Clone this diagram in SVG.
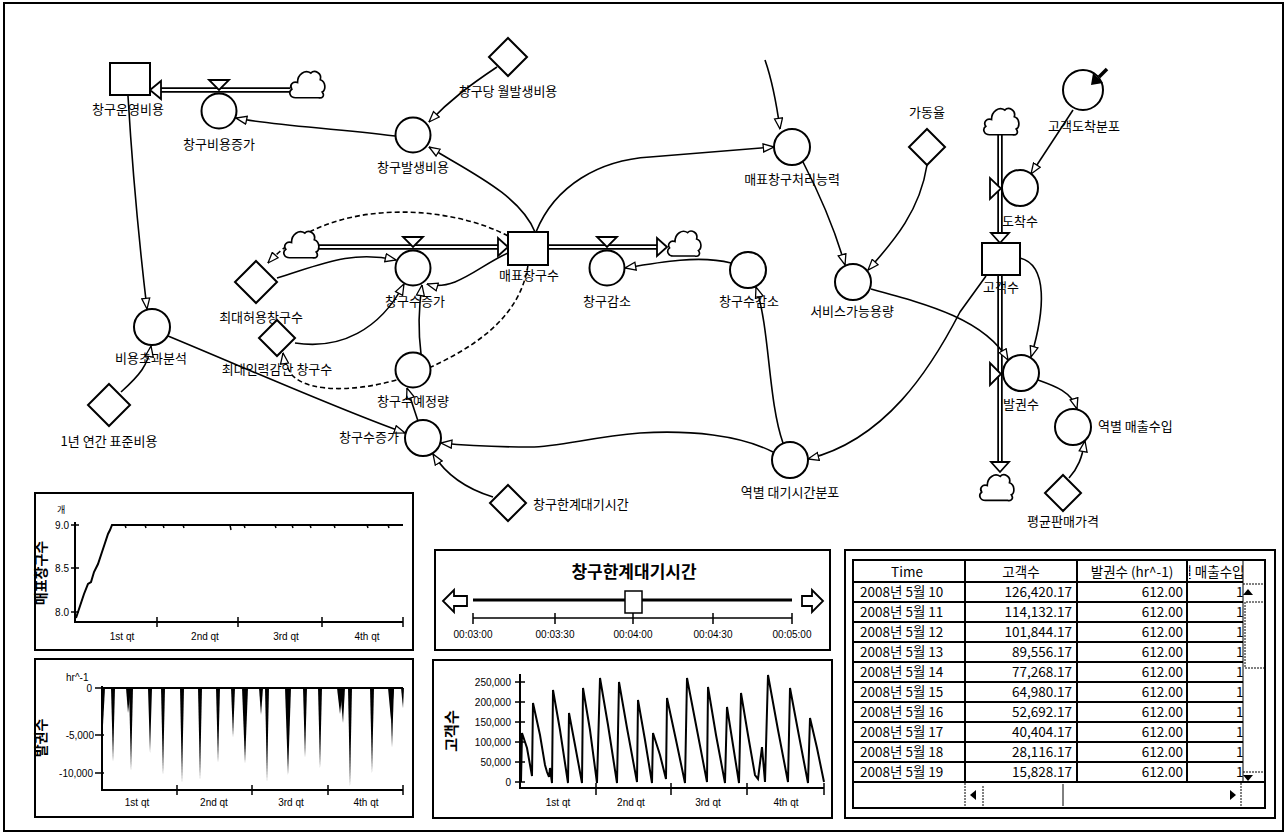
<svg xmlns="http://www.w3.org/2000/svg" width="1287" height="834" viewBox="0 0 1287 834">
<style>
text{font-family:"Noto Sans CJK KR","Liberation Sans",sans-serif;fill:#000}
.lbl{font-size:13px;text-anchor:middle}
.st{text-anchor:start}
.nd{fill:#fff;stroke:#000;stroke-width:2}
.ln{fill:none;stroke:#000;stroke-width:1.6;marker-end:url(#arr)}
.ds{stroke-dasharray:5,3}
.pb{stroke:#000;stroke-width:5.5;fill:none}
.pw{stroke:#fff;stroke-width:2;fill:none}
.ph{fill:#fff;stroke:#000;stroke-width:1.8}
.fr{fill:#fff;stroke:#000;stroke-width:2}
.ax{stroke:#000;stroke-width:2;fill:none}
.tk{stroke:#000;stroke-width:1.5}
.sm{font-family:"Liberation Sans",sans-serif;font-size:10px}
.ttl{font-size:14px;font-weight:bold;text-anchor:middle}
.tb{font-size:13.5px}
.grid{stroke:#000;stroke-width:2}
.dot{fill:none;stroke:#000;stroke-width:1;stroke-dasharray:2,1}
</style>
<defs>
<marker id="arr" viewBox="0 0 12 10" refX="11.5" refY="5" markerWidth="12" markerHeight="10" markerUnits="userSpaceOnUse" orient="auto">
<path d="M0.8,1 L11.5,5 L0.8,9 Z" fill="#fff" stroke="#000" stroke-width="1.3"/>
</marker>
<symbol id="cloud" viewBox="0 0 40 34" width="40" height="34" overflow="visible">
<path d="M8,32 C2,32 0,26 4,23 C1,19 5,14 10,16 C10,7 18,2 24,6 C28,2 36,6 34,13 C40,15 40,24 36,26 C39,30 36,33 32,32 Z" fill="#fff" stroke="#000" stroke-width="1.8"/>
</symbol>
<clipPath id="c4"><rect x="1189" y="560" width="54" height="222"/></clipPath>
</defs>
<rect x="4" y="3" width="1279" height="828" fill="#fff" stroke="#000" stroke-width="2"/>

<g id="connectors">
<!-- pipes -->
<path class="pb" d="M290,90 L156,90"/><path class="pw" d="M290,90 L156,90"/>
<path class="pb" d="M318,247 L502,247"/><path class="pw" d="M318,247 L502,247"/>
<path class="pb" d="M548,247 L661,247"/><path class="pw" d="M548,247 L661,247"/>
<path class="pb" d="M1000,135 L1000,237"/><path class="pw" d="M1000,135 L1000,237"/>
<path class="pb" d="M1000,275 L1000,466"/><path class="pw" d="M1000,275 L1000,466"/>
<polygon class="ph" points="150,90 161,81 161,99"/>
<polygon class="ph" points="508,247 498,238 498,256"/>
<polygon class="ph" points="667,247 657,238 657,256"/>
<polygon class="ph" points="1000,243 991,233 1009,233"/>
<polygon class="ph" points="1000,472 991,462 1009,462"/>
<!-- info links -->
<path class="ln" d="M497,67 C470,85 450,100 429,122"/>
<path class="ln" d="M395,136 C330,128 270,125 236,118"/>
<path class="ln" d="M535,232 C520,195 470,172 429,147"/>
<path class="ln" d="M536,232 C555,185 600,160 650,157 C700,153 740,150 774,147"/>
<path class="ln" d="M765,60 C772,80 776,100 780,129"/>
<path class="ln" d="M803,162 C820,195 835,230 845,265"/>
<path class="ln" d="M927,165 C920,210 895,240 868,270"/>
<path class="ln" d="M871,289 C930,305 985,320 1008,360"/>
<path class="ln" d="M1020,258 C1048,265 1045,310 1031,357"/>
<path class="ln" d="M1073,110 L1031,174"/>
<path class="ln" d="M986,276 L960,312 C930,370 885,440 808,459"/>
<path class="ln" d="M783,443 C768,400 770,330 756,287"/>
<path class="ln" d="M731,263 C700,255 660,262 625,268"/>
<path class="ln" d="M773,452 C740,435 690,430 640,433 C590,437 560,447 530,447 C500,447 470,446 441,443"/>
<path class="ln" d="M493,497 C470,490 448,478 433,454"/>
<path class="ln" d="M168,336 C250,370 340,410 405,433"/>
<path class="ln" d="M418,421 L407,388"/>
<path class="ln" d="M421,354 C418,330 419,305 422,285"/>
<path class="ln" d="M508,253 C480,265 455,292 427,284"/>
<path class="ln" d="M277,278 C320,265 350,250 396,260"/>
<path class="ln" d="M295,343 C340,350 380,330 404,284"/>
<path class="ln ds" d="M508,236 C450,205 330,195 268,263"/>
<path class="ln ds" d="M528,265 C520,320 470,350 420,372 C370,392 310,395 292,375 C287,368 284,360 283,353"/>
<path class="ln" d="M128,96 C133,180 140,250 147,309"/>
<path class="ln" d="M121,392 C140,375 148,365 151,346"/>
<path class="ln" d="M1038,380 C1055,386 1072,392 1077,409"/>
<path class="ln" d="M1069,478 C1078,468 1082,458 1085,441"/>
</g>

<g id="n_cloud1"><use href="#cloud" x="288" y="67" width="38" height="33"/></g>
<g id="n_cloud2"><use href="#cloud" x="282" y="227" width="38" height="33"/></g>
<g id="n_cloud3"><use href="#cloud" x="666" y="226" width="36" height="33"/></g>
<g id="n_cloud4"><use href="#cloud" x="982" y="104" width="38" height="33"/></g>
<g id="n_cloud5"><use href="#cloud" x="978" y="470" width="37" height="33"/></g>

<g id="n_창구운영비용"><rect class="nd" x="110" y="63" width="40" height="32"/><text class="lbl" x="128" y="114">창구운영비용</text></g>
<g id="n_창구비용증가"><polygon class="ph" points="209,80 229,80 219,90"/><circle class="nd" cx="219" cy="111" r="17.5"/><text class="lbl" x="219" y="149">창구비용증가</text></g>
<g id="n_창구당월발생비용"><polygon class="nd" points="508,38 527,57 508,76 489,57"/><text class="lbl" x="508" y="96">창구당 월발생비용</text></g>
<g id="n_창구발생비용"><circle class="nd" cx="413" cy="135" r="17.5"/><text class="lbl" x="413" y="172">창구발생비용</text></g>
<g id="n_매표창구수"><rect class="nd" x="508" y="232" width="40" height="33"/><text class="lbl" x="529" y="280">매표창구수</text></g>
<g id="n_창구수증가1"><polygon class="ph" points="403,237 423,237 413,247"/><circle class="nd" cx="413" cy="268" r="17.5"/><text class="lbl" x="415" y="306">창구수증가</text></g>
<g id="n_창구감소"><polygon class="ph" points="597,237 617,237 607,247"/><circle class="nd" cx="607" cy="268" r="17.5"/><text class="lbl" x="607" y="306">창구감소</text></g>
<g id="n_최대허용창구수"><polygon class="nd" points="256,261 277,282 256,303 235,282"/><text class="lbl" x="261" y="322">최대허용창구수</text></g>
<g id="n_최대인력감안창구수"><polygon class="nd" points="277,320 295,338 277,356 259,338"/><text class="lbl" x="277" y="374">최대인력감안 창구수</text></g>
<g id="n_창구수예정량"><circle class="nd" cx="413" cy="370" r="17.5"/><text class="lbl" x="413" y="406">창구수예정량</text></g>
<g id="n_창구수증가2"><circle class="nd" cx="423" cy="438" r="18"/><text class="lbl" x="369" y="442">창구수증가</text></g>
<g id="n_창구한계대기시간"><polygon class="nd" points="508,485 526,503 508,521 490,503"/><text class="lbl st" x="533" y="509">창구한계대기시간</text></g>
<g id="n_비용초과분석"><circle class="nd" cx="152" cy="327" r="18"/><text class="lbl" x="151" y="363">비용초과분석</text></g>
<g id="n_1년연간표준비용"><polygon class="nd" points="109,384 130,405 109,426 88,405"/><text class="lbl" x="109" y="446">1년 연간 표준비용</text></g>
<g id="n_매표창구처리능력"><circle class="nd" cx="792" cy="147" r="18"/><text class="lbl" x="792" y="184">매표창구처리능력</text></g>
<g id="n_가동율"><polygon class="nd" points="927,129 945,147 927,165 909,147"/><text class="lbl" x="927" y="117">가동율</text></g>
<g id="n_서비스가능용량"><circle class="nd" cx="853" cy="282" r="18"/><text class="lbl" x="852" y="316">서비스가능용량</text></g>
<g id="n_고객도착분포"><circle class="nd" cx="1083" cy="90" r="20"/><path d="M1107,69 L1099,77" stroke="#000" stroke-width="3.5"/><polygon points="1091,85 1093,73 1103,83" fill="#000"/><text class="lbl" x="1084" y="131">고객도착분포</text></g>
<g id="n_도착수"><polygon class="ph" points="990,178 990,199 1001,188.5"/><circle class="nd" cx="1020" cy="188" r="18"/><text class="lbl" x="1020" y="226">도착수</text></g>
<g id="n_고객수"><rect class="nd" x="982" y="243" width="38" height="32"/><text class="lbl" x="1001" y="292">고객수</text></g>
<g id="n_발권수"><polygon class="ph" points="990,363 990,385 1001,374"/><circle class="nd" cx="1021" cy="373" r="18"/><text class="lbl" x="1021" y="409">발권수</text></g>
<g id="n_역별매출수입"><circle class="nd" cx="1073" cy="427" r="18"/><text class="lbl st" x="1098" y="431">역별 매출수입</text></g>
<g id="n_평균판매가격"><polygon class="nd" points="1063,475 1081,493 1063,511 1045,493"/><text class="lbl" x="1063" y="526">평균판매가격</text></g>
<g id="n_창구수감소"><circle class="nd" cx="748" cy="270" r="18"/><text class="lbl" x="749" y="306">창구수감소</text></g>
<g id="n_역별대기시간분포"><circle class="nd" cx="790" cy="460" r="18"/><text class="lbl" x="790" y="497">역별 대기시간분포</text></g>

<!-- Chart 1 -->
<g id="chart1">
<rect class="fr" x="35" y="493" width="378" height="157"/>
<text class="ttl" transform="translate(46,573) rotate(-90)">매표창구수</text>
<text class="sm" x="57" y="513" style="font-family:'Noto Sans CJK KR',sans-serif;font-size:9px">개</text>
<path class="ax" d="M75,522 L75,623 M75,622 L403,622"/>
<path class="tk" d="M71,525 L79,525 M71,568 L79,568 M71,612 L79,612 M157,617 L157,627 M238,617 L238,627 M322,617 L322,627 M403,617 L403,627"/>
<text class="sm" x="69" y="529" text-anchor="end">9.0</text>
<text class="sm" x="69" y="572" text-anchor="end">8.5</text>
<text class="sm" x="69" y="616" text-anchor="end">8.0</text>
<text class="sm" x="122" y="640" text-anchor="middle">1st qt</text>
<text class="sm" x="205" y="640" text-anchor="middle">2nd qt</text>
<text class="sm" x="286" y="640" text-anchor="middle">3rd qt</text>
<text class="sm" x="367" y="640" text-anchor="middle">4th qt</text>
<path d="M76,618 L80,606 L84,594 L88,584 L91,582 L94,572 L98,564 L102,552 L105,543 L108,534 L110,530 L112,525 L403,525" fill="none" stroke="#000" stroke-width="2"/>
<path d="M125,525 l1,3 M145,525 l1,3 M163,525 l1,3 M183,525 l1,3 M230,525 l1,5 M244,525 l1,3 M275,525 l1,3 M292,525 l1,3 M310,525 l1,3 M334,525 l1,3 M367,525 l1,3 M388,525 l1,3" stroke="#000" stroke-width="1.5"/>
</g>

<!-- Chart 2 -->
<g id="chart2">
<rect class="fr" x="35" y="659" width="378" height="158"/>
<text class="ttl" transform="translate(46,738) rotate(-90)">발권수</text>
<text class="sm" x="66" y="681">hr^-1</text>
<path class="ax" d="M102,686 L102,791 M102,790 L403,790"/>
<path class="tk" d="M95,688 L104,688 M95,735 L104,735 M95,773 L104,773 M177,785 L177,795 M252,785 L252,795 M328,785 L328,795 M403,785 L403,795"/>
<text class="sm" x="92" y="692" text-anchor="end">0</text>
<text class="sm" x="94" y="739" text-anchor="end">-5,000</text>
<text class="sm" x="93" y="777" text-anchor="end">-10,000</text>
<text class="sm" x="137" y="806" text-anchor="middle">1st qt</text>
<text class="sm" x="214" y="806" text-anchor="middle">2nd qt</text>
<text class="sm" x="291" y="806" text-anchor="middle">3rd qt</text>
<text class="sm" x="366" y="806" text-anchor="middle">4th qt</text>
<path d="M102,688 L403,688" stroke="#000" stroke-width="2"/>
<g fill="#000">
<polygon points="102,688 105,688 103,725"/>
<polygon points="111,688 115,688 113,762"/>
<polygon points="126,688 131,688 128,713"/>
<polygon points="129,688 133,688 131,771"/>
<polygon points="148,688 152,688 150,753"/>
<polygon points="161,688 165,688 163,775"/>
<polygon points="180,688 184,688 182,783"/>
<polygon points="198,688 202,688 200,780"/>
<polygon points="216,688 220,688 218,763"/>
<polygon points="231,688 235,688 233,737"/>
<polygon points="242,688 248,688 245,763"/>
<polygon points="259,688 263,688 261,715"/>
<polygon points="265,688 269,688 267,782"/>
<polygon points="285,688 291,688 288,775"/>
<polygon points="303,688 307,688 305,758"/>
<polygon points="318,688 322,688 320,768"/>
<polygon points="337,688 343,688 340,714"/>
<polygon points="340,688 345,688 343,723"/>
<polygon points="348,688 352,688 350,787"/>
<polygon points="370,688 374,688 372,773"/>
<polygon points="388,688 394,688 391,720"/>
<polygon points="390,688 394,688 392,747"/>
<polygon points="401,688 404,688 403,708"/>
</g>
</g>

<!-- Slider -->
<g id="slider">
<rect class="fr" x="435" y="550" width="395" height="100"/>
<text x="634" y="578" style="font-size:17px;font-weight:bold" text-anchor="middle">창구한계대기시간</text>
<polygon points="443,601 454,590 454,596 467,596 467,606 454,606 454,612" fill="#fff" stroke="#000" stroke-width="1.8"/>
<polygon points="823,601 812,590 812,596 802,596 802,606 812,606 812,612" fill="#fff" stroke="#000" stroke-width="1.8"/>
<path d="M473,600 L792,600" stroke="#000" stroke-width="3"/>
<rect x="625" y="591" width="17" height="22" fill="#fff" stroke="#000" stroke-width="1.5"/>
<path d="M473,618 L792,618 M473,613 L473,624 M555,613 L555,624 M633,613 L633,624 M713,613 L713,624 M792,613 L792,624" stroke="#000" stroke-width="1.5"/>
<text class="sm" x="473" y="638" text-anchor="middle">00:03:00</text>
<text class="sm" x="555" y="638" text-anchor="middle">00:03:30</text>
<text class="sm" x="633" y="638" text-anchor="middle">00:04:00</text>
<text class="sm" x="713" y="638" text-anchor="middle">00:04:30</text>
<text class="sm" x="792" y="638" text-anchor="middle">00:05:00</text>
</g>

<!-- Chart 3 -->
<g id="chart3">
<rect class="fr" x="433" y="660" width="399" height="158"/>
<text class="ttl" transform="translate(457,731) rotate(-90)" style="font-size:15px">고객수</text>
<path class="ax" d="M520,674 L520,789 M520,788 L824,788"/>
<path class="tk" d="M515,682 L525,682 M515,702 L525,702 M515,722 L525,722 M515,742 L525,742 M515,762 L525,762 M515,782 L525,782 M596,783 L596,795 M671,783 L671,795 M747,783 L747,795 M824,783 L824,795"/>
<text class="sm" x="511" y="686" text-anchor="end">250,000</text>
<text class="sm" x="511" y="706" text-anchor="end">200,000</text>
<text class="sm" x="511" y="726" text-anchor="end">150,000</text>
<text class="sm" x="511" y="746" text-anchor="end">100,000</text>
<text class="sm" x="511" y="766" text-anchor="end">50,000</text>
<text class="sm" x="511" y="786" text-anchor="end">0</text>
<text class="sm" x="558" y="806" text-anchor="middle">1st qt</text>
<text class="sm" x="631" y="806" text-anchor="middle">2nd qt</text>
<text class="sm" x="708" y="806" text-anchor="middle">3rd qt</text>
<text class="sm" x="786" y="806" text-anchor="middle">4th qt</text>
<path d="M521,782 L522,733 L527,748 L532,776 L533,703 L540,735 L545,765 L547,772 L549,777 L550,768 L552,783 L553,690 L560,730 L568,783 L569,713 L575,745 L582,783 L583,688 L590,730 L597,783 L600,678 L608,725 L617,783 L619,682 L627,728 L637,782 L638,700 L645,740 L652,783 L653,733 L660,755 L666,779 L667,698 L676,740 L685,783 L687,678 L697,730 L707,782 L708,687 L716,735 L725,783 L727,707 L733,745 L739,783 L741,693 L748,735 L755,775 L758,779 L762,747 L765,782 L768,675 L778,730 L788,782 L790,688 L799,736 L808,783 L810,718 L817,748 L824,782" fill="none" stroke="#000" stroke-width="2"/>
</g>

<!-- Table -->
<g id="table">
<rect class="fr" x="845" y="550" width="430" height="268"/>
<rect x="853" y="560" width="412" height="248" fill="#fff" stroke="#000" stroke-width="2"/>
<path class="grid" d="M853,582 L1243,582 M853,602 L1243,602 M853,622 L1243,622 M853,642 L1243,642 M853,662 L1243,662 M853,682 L1243,682 M853,702 L1243,702 M853,722 L1243,722 M853,742 L1243,742 M853,762 L1243,762 M853,782 L1265,782 M965,560 L965,782 M1077,560 L1077,782 M1187,560 L1187,782"/>
<path d="M1243,560 L1243,782" stroke="#000" stroke-width="1"/>
<text class="tb" x="907" y="577" text-anchor="middle">Time</text>
<text class="tb" x="1021" y="577" text-anchor="middle">고객수</text>
<text class="tb" x="1132" y="577" text-anchor="middle">발권수 (hr^-1)</text>
<g clip-path="url(#c4)"><text class="tb" x="1167" y="577">역별 매출수입</text>
<text class="tb" x="1236" y="597">18</text><text class="tb" x="1236" y="617">18</text><text class="tb" x="1236" y="637">18</text><text class="tb" x="1236" y="657">18</text><text class="tb" x="1236" y="677">18</text><text class="tb" x="1236" y="697">18</text><text class="tb" x="1236" y="717">18</text><text class="tb" x="1236" y="737">18</text><text class="tb" x="1236" y="757">18</text><text class="tb" x="1236" y="777">18</text></g>
<g class="tb">
<text class="tb" x="860" y="597">2008년 5월 10</text><text class="tb" x="1072" y="597" text-anchor="end">126,420.17</text><text class="tb" x="1183" y="597" text-anchor="end">612.00</text>
<text class="tb" x="860" y="617">2008년 5월 11</text><text class="tb" x="1072" y="617" text-anchor="end">114,132.17</text><text class="tb" x="1183" y="617" text-anchor="end">612.00</text>
<text class="tb" x="860" y="637">2008년 5월 12</text><text class="tb" x="1072" y="637" text-anchor="end">101,844.17</text><text class="tb" x="1183" y="637" text-anchor="end">612.00</text>
<text class="tb" x="860" y="657">2008년 5월 13</text><text class="tb" x="1072" y="657" text-anchor="end">89,556.17</text><text class="tb" x="1183" y="657" text-anchor="end">612.00</text>
<text class="tb" x="860" y="677">2008년 5월 14</text><text class="tb" x="1072" y="677" text-anchor="end">77,268.17</text><text class="tb" x="1183" y="677" text-anchor="end">612.00</text>
<text class="tb" x="860" y="697">2008년 5월 15</text><text class="tb" x="1072" y="697" text-anchor="end">64,980.17</text><text class="tb" x="1183" y="697" text-anchor="end">612.00</text>
<text class="tb" x="860" y="717">2008년 5월 16</text><text class="tb" x="1072" y="717" text-anchor="end">52,692.17</text><text class="tb" x="1183" y="717" text-anchor="end">612.00</text>
<text class="tb" x="860" y="737">2008년 5월 17</text><text class="tb" x="1072" y="737" text-anchor="end">40,404.17</text><text class="tb" x="1183" y="737" text-anchor="end">612.00</text>
<text class="tb" x="860" y="757">2008년 5월 18</text><text class="tb" x="1072" y="757" text-anchor="end">28,116.17</text><text class="tb" x="1183" y="757" text-anchor="end">612.00</text>
<text class="tb" x="860" y="777">2008년 5월 19</text><text class="tb" x="1072" y="777" text-anchor="end">15,828.17</text><text class="tb" x="1183" y="777" text-anchor="end">612.00</text>
</g>
<!-- scrollbars -->
<path class="dot" d="M1243,584 L1265,584 L1265,602 L1245,602 M1245,602 L1245,668 L1265,668 M1243,772 L1265,772 L1265,782"/>
<polygon points="1243,595 1253,595 1248,589" fill="#000"/>
<polygon points="1243,775 1253,775 1248,781" fill="#000"/>
<path class="dot" d="M965,783 L965,808 M983,786 L983,808 M983,808 L1063,808 M1241,783 L1241,808"/>
<path d="M1063,784 L1063,806" stroke="#000" stroke-width="1"/>
<polygon points="970,795 976,790 976,800" fill="#000"/>
<polygon points="1236,795 1230,790 1230,800" fill="#000"/>
</g>
</svg>
